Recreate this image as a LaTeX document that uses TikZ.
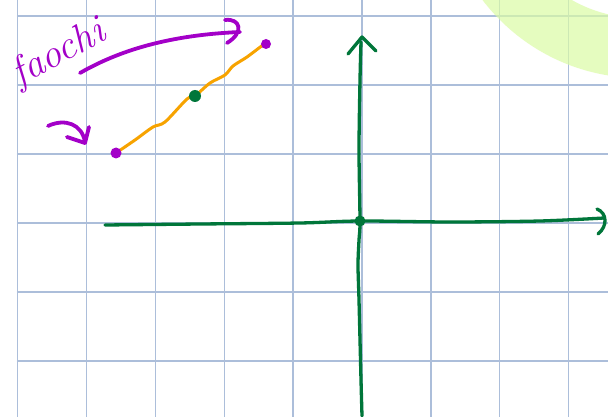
\documentclass[tikz,border=0pt]{standalone}
\definecolor{gridc}{RGB}{172,190,218}
\definecolor{axg}{RGB}{0,118,58}
\definecolor{purp}{RGB}{163,0,200}
\definecolor{orng}{RGB}{247,163,0}
\definecolor{hl}{RGB}{219,251,165}
\begin{document}
\begin{tikzpicture}[x=1pt,y=-1pt,line cap=round,line join=round,
  gridline/.style={draw=gridc,line width=1.3pt},
  axisline/.style={draw=axg,line width=3.3pt},
  pen/.style={draw=purp,line width=3.8pt},
  orangepen/.style={draw=orng,line width=3pt},
  handtext/.style={text=purp,inner sep=0pt,font=\fontsize{40}{40}\selectfont\itshape}]
\useasboundingbox (0,0) rectangle (608,417);
\fill[white] (0,0) rectangle (608,417);
% grid
\foreach \x in {17.5,86.4,155.3,224.2,293.1,362,430.9,499.8,568.7}
  \draw[gridline] (\x,0) -- (\x,417);
\foreach \y in {16,85,154,223,292,361}
  \draw[gridline] (17.5,\y) -- (608,\y);
% highlighter band
\begin{scope}
  \clip (0,0) rectangle (608,417);
  \draw[hl,line width=60pt,opacity=0.7] (640,-120) circle[radius=168pt];
\end{scope}
% named points
\coordinate (O) at (360,221);
\coordinate (xL) at (105,225);
\coordinate (xR) at (604,218);
\coordinate (yB) at (362,416);
\coordinate (yT) at (362,37);
\coordinate (P) at (116,153);
\coordinate (Q) at (266,44);
\coordinate (M) at (195,96);
% axes
\draw[axisline] plot[smooth] coordinates {(xL) (200,224) (300,223) (O) (450,222) (540,221) (xR)};
\draw[axisline] (597,209) .. controls (607,213) and (608,226) .. (598,234);
\draw[axisline] plot[smooth] coordinates {(yB) (361,380) (359,300) (358,265) (359,240) (O) (359,150) (360,80) (361,42)};
\draw[axisline] (348,54) -- (yT) -- (376,51);
\fill[axg] (O) circle[radius=5.5pt];
% orange segment
\draw[orangepen] plot[smooth] coordinates {(P) (135,140) (153,127) (165,122) (187,99) (M) (210,83) (225,75) (233,66) (247,57) (263,45) (Q)};
\fill[purp] (P) circle[radius=5.5pt];
\fill[purp] (Q) circle[radius=5pt];
\fill[axg] (M) circle[radius=6pt];
% purple arrows
\draw[pen] (80,73) .. controls (120,50) and (170,35) .. (240,32);
\draw[pen] (225,20) .. controls (240,18) and (245,32) .. (227,43);
\draw[pen] (48,126) .. controls (65,118) and (82,124) .. (85,142);
\draw[pen] (67,137) -- (85,143) -- (89,127);
% label
\node[handtext,rotate=28] (lbl) at (59,54) {faochi};
\end{tikzpicture}
\end{document}
